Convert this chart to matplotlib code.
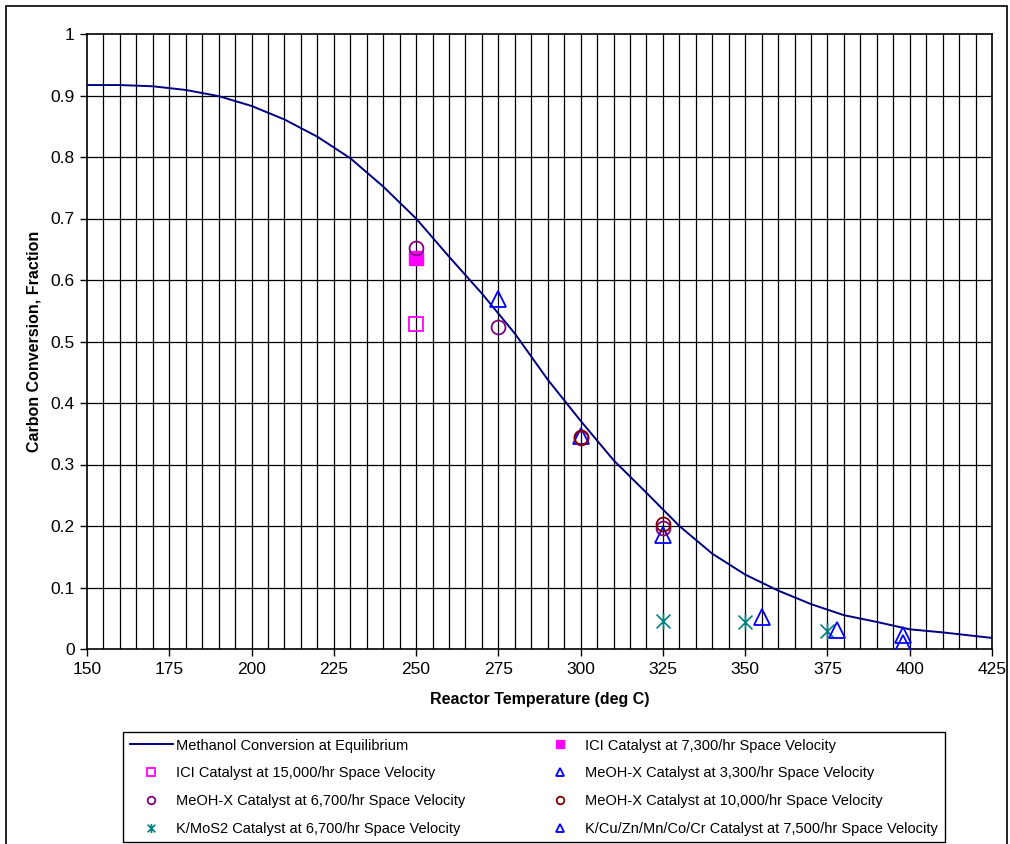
import matplotlib
matplotlib.use("Agg")
import matplotlib.pyplot as plt
from matplotlib.path import Path
from matplotlib.patches import Rectangle
import numpy as np

plt.rcParams['font.family'] = ['Liberation Sans', 'DejaVu Sans']

# equilibrium conversion curve
eq_temp = [150, 160, 170, 180, 190, 200, 210, 220, 230, 240, 250, 260, 270, 280,
           290, 300, 310, 320, 330, 340, 350, 360, 370, 380, 390, 400, 410, 420, 425]
eq_conv = [0.917, 0.917, 0.915, 0.909, 0.899, 0.883, 0.861, 0.833, 0.798, 0.752,
           0.700, 0.638, 0.578, 0.513, 0.438, 0.371, 0.307, 0.254, 0.200, 0.155,
           0.121, 0.095, 0.073, 0.055, 0.044, 0.032, 0.027, 0.021, 0.018]

# catalyst test points
ici_7300_t = [250]
ici_7300_c = [0.636]
ici_15000_t = [250]
ici_15000_c = [0.528]
meohx_3300_t = [275, 300, 325]
meohx_3300_c = [0.569, 0.347, 0.186]
meohx_6700_t = [250, 275, 300, 325]
meohx_6700_c = [0.652, 0.524, 0.343, 0.196]
meohx_10000_t = [300, 325]
meohx_10000_c = [0.345, 0.203]
kmos2_t = [325, 350, 375]
kmos2_c = [0.045, 0.044, 0.030]
kcu_t = [355, 378, 398, 398]
kcu_c = [0.052, 0.031, 0.022, 0.010]

x_ticks = [150, 175, 200, 225, 250, 275, 300, 325, 350, 375, 400, 425]
y_ticks = [0, 0.1, 0.2, 0.3, 0.4, 0.5, 0.6, 0.7, 0.8, 0.9, 1]

# asterisk: an X with a vertical bar through it
star = Path([(-1, -1), (1, 1), (-1, 1), (1, -1), (0, -1.2), (0, 1.2)],
            [Path.MOVETO, Path.LINETO, Path.MOVETO, Path.LINETO, Path.MOVETO, Path.LINETO])

fig = plt.figure(figsize=(10.10, 8.44), dpi=100)
ax = fig.add_axes([87 / 1010, 1 - 649 / 844, 905 / 1010, 615 / 844])

ax.set_xlim(150, 425)
ax.set_ylim(0, 1)
ax.set_xticks(x_ticks)
ax.set_xticklabels([str(t) for t in x_ticks])
ax.set_yticks(y_ticks)
ax.set_yticklabels(['0', '0.1', '0.2', '0.3', '0.4', '0.5', '0.6', '0.7', '0.8', '0.9', '1'])
ax.tick_params(direction='out', length=5, width=1, labelsize=12.5, pad=4)

for xv in np.arange(155, 425, 5):
    ax.axvline(xv, color='black', lw=0.9, zorder=1)
for yv in y_ticks[1:-1]:
    ax.axhline(yv, color='black', lw=0.9, zorder=1)
for s in ax.spines.values():
    s.set_linewidth(1.2)

ms = 10
h_eq, = ax.plot(eq_temp, eq_conv, color='#000080', lw=1.4, zorder=3,
                label='Methanol Conversion at Equilibrium')
h_ici7, = ax.plot(ici_7300_t, ici_7300_c, 's', ms=ms, color='#FF00FF', mec='#FF00FF',
                  ls='none', zorder=4, label='ICI Catalyst at 7,300/hr Space Velocity')
h_ici15, = ax.plot(ici_15000_t, ici_15000_c, 's', ms=ms, mfc='none', mec='#FF00FF',
                   mew=1.3, ls='none', zorder=4, label='ICI Catalyst at 15,000/hr Space Velocity')
h_m33, = ax.plot(meohx_3300_t, meohx_3300_c, '^', ms=ms + 1, mfc='none', mec='#0000FF',
                 mew=1.3, ls='none', zorder=4, label='MeOH-X Catalyst at 3,300/hr Space Velocity')
h_m67, = ax.plot(meohx_6700_t, meohx_6700_c, 'o', ms=ms, mfc='none', mec='#800080',
                 mew=1.3, ls='none', zorder=4, label='MeOH-X Catalyst at 6,700/hr Space Velocity')
h_m100, = ax.plot(meohx_10000_t, meohx_10000_c, 'o', ms=ms, mfc='none', mec='#800000',
                  mew=1.3, ls='none', zorder=4, label='MeOH-X Catalyst at 10,000/hr Space Velocity')
h_kmo, = ax.plot(kmos2_t, kmos2_c, marker=star, ms=ms + 2, color='#008080', mew=1.2,
                 ls='none', zorder=4, label='K/MoS2 Catalyst at 6,700/hr Space Velocity')
h_kcu, = ax.plot(kcu_t, kcu_c, '^', ms=ms + 1, mfc='none', mec='#0000FF', mew=1.3,
                 ls='none', zorder=4, label='K/Cu/Zn/Mn/Co/Cr Catalyst at 7,500/hr Space Velocity')

ax.set_xlabel('Reactor Temperature (deg C)', fontsize=11.5, fontweight='bold', labelpad=11)
ax.set_ylabel('Carbon Conversion, Fraction', fontsize=11.5, fontweight='bold', labelpad=6)

handles = [h_eq, h_ici15, h_m67, h_kmo, h_ici7, h_m33, h_m100, h_kcu]
leg = fig.legend(handles=handles, ncol=2, loc='upper left',
                 bbox_to_anchor=(123 / 1010, 1 - 732 / 844), borderaxespad=0,
                 fontsize=10.5, markerscale=0.55, handlelength=3.0, handletextpad=0.2,
                 labelspacing=0.94, columnspacing=5.0, borderpad=0.45,
                 fancybox=False, edgecolor='black', framealpha=1)
leg.get_frame().set_linewidth(1)

# outer border of the chart area
fig.patches.append(Rectangle((6 / 1010, -0.05), 1001 / 1010, 1.05 - 6 / 844,
                             transform=fig.transFigure, fill=False,
                             edgecolor='black', lw=1.2))

fig.savefig('out.png', dpi=100)
